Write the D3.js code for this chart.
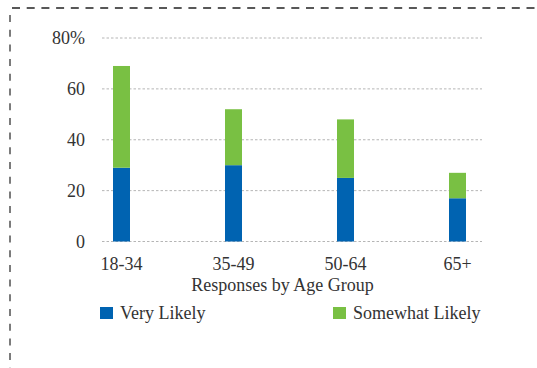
<!DOCTYPE html>
<html>
<head>
<meta charset="utf-8">
<script src="https://cdn.jsdelivr.net/npm/d3@7/dist/d3.min.js"></script>
<style>
  html, body { margin: 0; padding: 0; background: #fff; }
  svg { display: block; }
</style>
</head>
<body>
<svg id="chart" width="537" height="368"></svg>
<script>
// Age groups and the two stacked response shares (percent)
const categories = ["18-34", "35-49", "50-64", "65+"];
const veryLikely = [29, 30, 25, 17];
const somewhatLikely = [40, 22, 23, 10];
const seriesNames = ["Very Likely", "Somewhat Likely"];
const yTicks = [0, 20, 40, 60, 80];

const colors = ["#0063b1", "#79c043"];
const font = "'Liberation Serif', 'Times New Roman', serif";

const svg = d3.select("#chart")
  .attr("font-family", font)
  .style("font-family", font);

// Dashed frame along the top and left edges
svg.append("line")
  .attr("x1", 12).attr("x2", 537).attr("y1", 8).attr("y2", 8)
  .attr("stroke", "#222").attr("stroke-width", 1.6)
  .attr("stroke-dasharray", "8,6.7");
svg.append("line")
  .attr("x1", 10).attr("x2", 10).attr("y1", 15).attr("y2", 368)
  .attr("stroke", "#444").attr("stroke-width", 1.4)
  .attr("stroke-dasharray", "7,7.7");

const plotLeft = 102, plotRight = 482;
const y = d3.scaleLinear().domain([0, 80]).range([241.5, 38]);
const x = d3.scalePoint().domain(categories).range([121.5, 457.5]);
const barWidth = 17;

// Horizontal dotted gridlines
svg.append("g").selectAll("line")
  .data(yTicks)
  .join("line")
  .attr("x1", plotLeft).attr("x2", plotRight)
  .attr("y1", d => y(d)).attr("y2", d => y(d))
  .attr("stroke", "#b5b5b5").attr("stroke-width", 1)
  .attr("stroke-dasharray", "2.5,2");

// Y tick labels
svg.append("g").selectAll("text")
  .data(yTicks)
  .join("text")
  .attr("x", 85)
  .attr("y", d => y(d) + 6)
  .attr("text-anchor", "end")
  .attr("font-size", 18)
  .attr("fill", "#333")
  .text(d => d === 80 ? "80%" : d);

// Stacked bars
const rows = categories.map((c, i) => ({
  category: c,
  "Very Likely": veryLikely[i],
  "Somewhat Likely": somewhatLikely[i]
}));
const stacked = d3.stack().keys(seriesNames)(rows);

svg.append("g").selectAll("g")
  .data(stacked)
  .join("g")
  .attr("fill", (d, i) => colors[i])
  .selectAll("rect")
  .data(d => d)
  .join("rect")
  .attr("x", d => x(d.data.category) - barWidth / 2)
  .attr("width", barWidth)
  .attr("y", d => y(d[1]))
  .attr("height", d => y(d[0]) - y(d[1]));

// Category labels
svg.append("g").selectAll("text")
  .data(categories)
  .join("text")
  .attr("x", d => x(d))
  .attr("y", 270)
  .attr("text-anchor", "middle")
  .attr("font-size", 18)
  .attr("fill", "#333")
  .text(d => d);

// Axis title
svg.append("text")
  .attr("x", 282.5)
  .attr("y", 291)
  .attr("text-anchor", "middle")
  .attr("font-size", 18)
  .attr("fill", "#333")
  .text("Responses by Age Group");

// Legend
const legendX = [100, 333];
const legend = svg.append("g").selectAll("g")
  .data(seriesNames)
  .join("g")
  .attr("transform", (d, i) => `translate(${legendX[i]},307)`);
legend.append("rect")
  .attr("width", 13).attr("height", 12)
  .attr("fill", (d, i) => colors[i]);
legend.append("text")
  .attr("x", 20).attr("y", 12)
  .attr("font-size", 18)
  .attr("fill", "#333")
  .text(d => d);
</script>
</body>
</html>
